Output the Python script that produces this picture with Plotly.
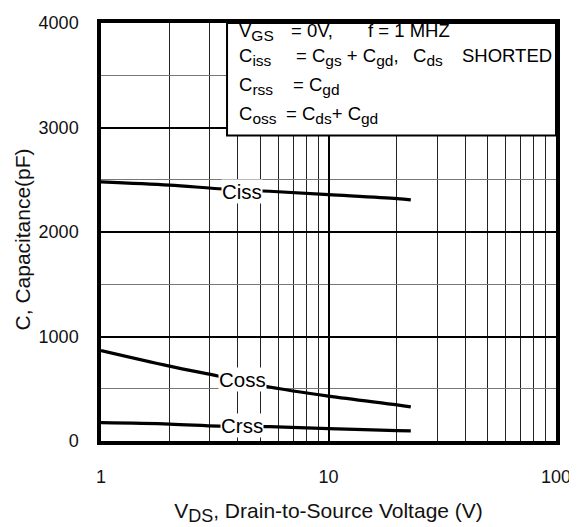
import math
import plotly.graph_objects as go

vds = [1, 2, 3.3, 5.5, 10, 20, 23]
ciss = [2480, 2449, 2414, 2390, 2358, 2320, 2308]
coss = [866, 717, 620, 517, 430, 346, 327]
crss = [175, 162, 143, 137, 119, 100, 96]

x_major = [1, 10, 100]
x_major_text = ["1", "10", "100"]
x_minor = [2, 3, 4, 5, 6, 7, 8, 9, 20, 30, 40, 50, 60, 70, 80, 90]
y_major = [0, 1000, 2000, 3000, 4000]
y_minor = [500, 1500, 2500, 3500]

curve_labels = ["Ciss", "Coss", "Crss"]
label_x = [4.18, 4.18, 4.15]
label_y = [2383, 589, 150]

FONT = "Liberation Sans, Arial, sans-serif"
BOX = 18.5
SUBPX = 15.5


def sub(t):
    return f"<sub><span style='font-size:{SUBPX}px'>{t}</span></sub>"


fig = go.Figure()
for name, ys in zip(curve_labels, [ciss, coss, crss]):
    fig.add_trace(go.Scatter(x=vds, y=ys, mode="lines", name=name,
                             line=dict(color="black", width=3.2, shape="spline"),
                             showlegend=False, hoverinfo="skip"))

for txt, xv, yv in zip(curve_labels, label_x, label_y):
    fig.add_annotation(x=math.log10(xv), y=yv, xref="x", yref="y",
                       text=txt, showarrow=False, bgcolor="white", borderpad=0,
                       font=dict(family=FONT, size=20.5, color="black"))

# condition box
fig.add_shape(type="rect", xref="paper", yref="paper", x0=0.277, x1=1.0, y0=0.731, y1=1.0,
              line=dict(color="black", width=2), fillcolor="white", layer="above")

DY = 0.0257
segments = [
    ("V" + sub("GS"), 0.3011, 0.985),
    ("= 0V,", 0.4154, 0.985),
    ("f = 1 MHZ", 0.5846, 0.985),
    ("C" + sub("iss"), 0.3011, 0.9245),
    ("= C" + sub("gs") + " + C" + sub("gd") + ",", 0.4264, 0.9245),
    ("C" + sub("ds"), 0.6835, 0.9245),
    ("SHORTED", 0.7912, 0.9245),
    ("C" + sub("rss"), 0.3011, 0.8544),
    ("= C" + sub("gd"), 0.4198, 0.8544),
    ("C" + sub("oss"), 0.3011, 0.7843),
    ("= C" + sub("ds") + "+ C" + sub("gd"), 0.4044, 0.7843),
]
for txt, xx, yy in segments:
    fig.add_annotation(xref="paper", yref="paper", x=xx, y=yy + DY, xanchor="left", yanchor="top",
                       text=txt, showarrow=False, borderpad=0,
                       font=dict(family=FONT, size=BOX, color="black"))

# y-axis title
fig.add_annotation(xref="paper", yref="paper", x=-0.1725, y=0.481, xanchor="center", yanchor="middle",
                   text="C, Capacitance(pF)", textangle=-90, showarrow=False, borderpad=0,
                   font=dict(family=FONT, size=21, color="#111"))

fig.update_layout(
    width=569, height=519,
    margin=dict(l=93, r=21, t=5, b=86),
    paper_bgcolor="white", plot_bgcolor="white",
    font=dict(family=FONT, size=18, color="#111"),
    xaxis=dict(type="log", range=[0, 2], tickmode="array", tickvals=x_major, ticktext=x_major_text,
               showgrid=True, gridcolor="black", gridwidth=2.2,
               minor=dict(tickmode="array", tickvals=x_minor, showgrid=True, gridcolor="#222", gridwidth=1.2),
               showline=True, linecolor="black", linewidth=3.5, mirror=True,
               ticks="", ticklabelstandoff=17, zeroline=False, ticklabeloverflow="allow",
               tickfont=dict(family=FONT, size=18, color="#111"),
               title=dict(text="V<sub><span style='font-size:18px'>DS</span></sub>, Drain-to-Source Voltage (V)",
                          standoff=18, font=dict(family=FONT, size=21, color="#111"))),
    yaxis=dict(range=[0, 4000], tickmode="array", tickvals=y_major,
               showgrid=True, gridcolor="black", gridwidth=2.2,
               minor=dict(tickmode="array", tickvals=y_minor, showgrid=True, gridcolor="#777", gridwidth=1.2),
               showline=True, linecolor="black", linewidth=3.5, mirror=True,
               ticks="", ticklabelstandoff=15, zeroline=False, ticklabeloverflow="allow",
               tickfont=dict(family=FONT, size=18, color="#111")),
)

fig.write_html("out.html", config={"displayModeBar": False})
